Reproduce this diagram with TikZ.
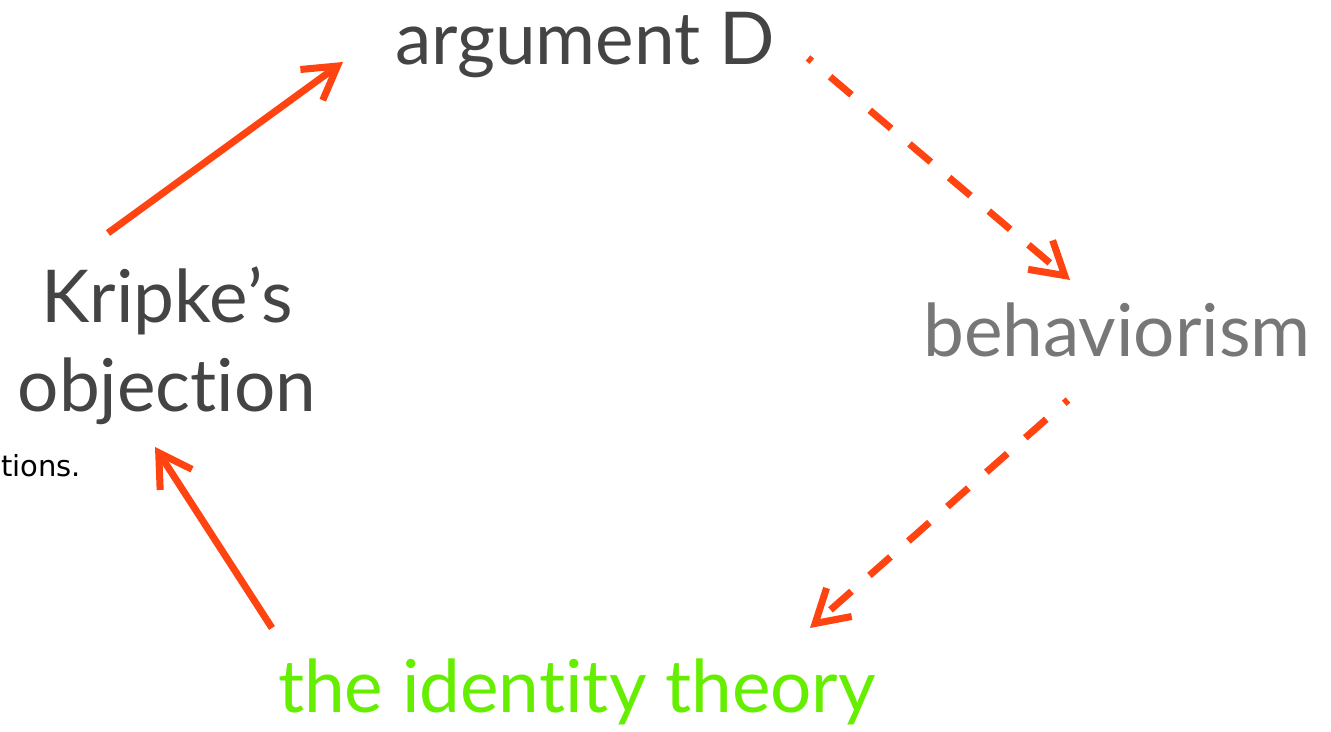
\documentclass[tikz,border=0pt]{standalone}
\usepackage{fontspec}
\setmainfont{Lato}[Ligatures=NoCommon]
\newfontfamily\notefont{DejaVu Sans}
\usetikzlibrary{arrows.meta}
\definecolor{ink}{HTML}{444444}
\definecolor{muted}{HTML}{777777}
\definecolor{accent}{HTML}{FF4411}
\definecolor{lime}{HTML}{66EE00}
\tikzset{
  term/.style={inner sep=0pt,align=center,anchor=base,text=#1,font=\fontsize{41.5}{51}\selectfont},
  flow/.style={-{Straight Barb[length=6.4mm,width=7.6mm]},line width=4pt,draw=accent},
  softflow/.style={flow,dash pattern=on 0.56cm off 0.48cm,dash phase=0.46cm}
}
\begin{document}
\begin{tikzpicture}[x=0.02cm,y=-0.02cm]
    \useasboundingbox (0,0) rectangle (1331,732);

    \node[term=ink] (argd) at (585,65) {argument D};
    \node[term=ink] (kripke) at (167,412) {Kripke's\\objection};
    \node[term=muted] (behav) at (1117,357) {behaviorism};
    \node[term=lime] (identity) at (577,712) {the identity theory};
    \node[inner sep=0pt,anchor=base west,font=\notefont\fontsize{16.5}{20}\selectfont] (note) at (1,477) {tions.};

    \draw[flow] ([shift={(-59,-179)}]kripke.base) -- ([shift={(-242,-3)}]argd.base);
    \draw[softflow] ([shift={(223,-7)}]argd.base) -- ([shift={(-47,-77)}]behav.base);
    \draw[softflow] ([shift={(-49,43)}]behav.base) -- ([shift={(233,-84)}]identity.base);
    \draw[flow] ([shift={(-305,-84)}]identity.base) -- ([shift={(-12,35)}]kripke.base);
  \end{tikzpicture}
\end{document}
